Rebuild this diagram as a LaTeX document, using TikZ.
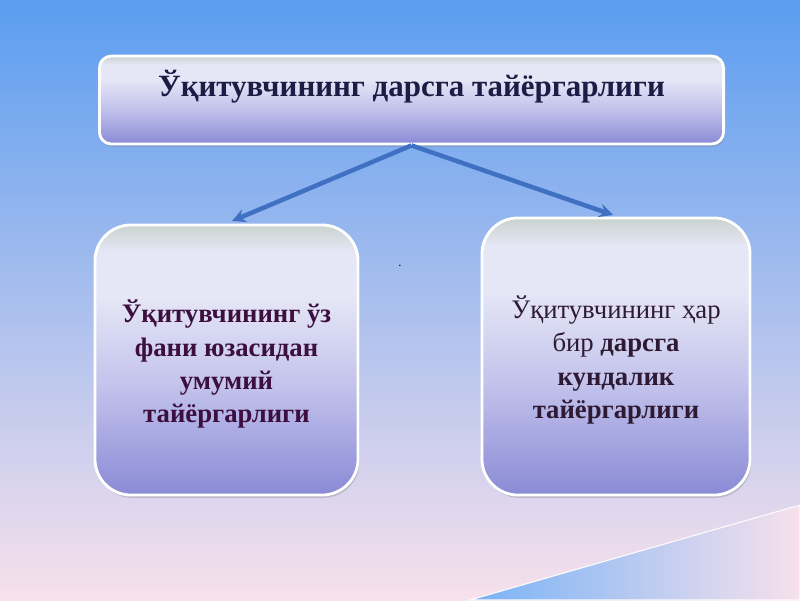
\documentclass[tikz,border=0pt]{standalone}
\usepackage{fontspec}
\setmainfont{Liberation Serif}
\usepackage{tikz}
\usetikzlibrary{arrows,shapes,positioning,calc,shadows}

\definecolor{skytop}{HTML}{5B9DF0}
\definecolor{skymid}{HTML}{A9C8F1}
\definecolor{skybot}{HTML}{F7E1EC}
\definecolor{boxtop}{HTML}{C9D3CF}
\definecolor{boxmid}{HTML}{E6E7F6}
\definecolor{boxlow}{HTML}{C2C2EC}
\definecolor{boxbot}{HTML}{8A8AD6}
\definecolor{groundblue}{HTML}{78B2F6}
\definecolor{arrowblue}{HTML}{3F70C2}
\definecolor{titleink}{HTML}{1C1C45}
\definecolor{leftink}{HTML}{3C0F3F}
\definecolor{rightink}{HTML}{2E1A33}

\pgfdeclareverticalshading{boxfill}{100bp}{
  color(0bp)=(boxbot); color(25bp)=(boxbot); color(45bp)=(boxlow);
  color(62bp)=(boxmid); color(70bp)=(boxmid); color(75bp)=(boxtop); color(100bp)=(boxtop)}

\begin{document}
\begin{tikzpicture}[
x=0.025cm, y=-0.025cm, >=stealth,
title-box/.style = {rectangle, rounded corners=0.3cm, draw=white, line width=2pt,
  shading=boxfill,
  drop shadow={shadow xshift=1pt, shadow yshift=-2pt, opacity=0.35},
  minimum width=15.6cm, minimum height=2.2cm, inner sep=0pt},
info-box/.style = {rectangle, rounded corners=0.9cm, draw=white, line width=2pt,
  shading=boxfill,
  drop shadow={shadow xshift=1pt, shadow yshift=-2pt, opacity=0.35},
  inner sep=0pt}
]

% background
\useasboundingbox (0,0) rectangle (800,600);
\shade[top color=skytop, middle color=skymid, bottom color=skybot] (0,0) rectangle (800,600);
\shade[left color=groundblue, right color=skybot, draw=white!85!skybot, line width=0.8pt]
  (470,600) -- (800,505) -- (800,600) -- cycle;

\node [title-box] (title) at (411.5,100) {};
\node [text=titleink, font=\fontsize{22}{26}\selectfont\bfseries] (titletext) at (411.5,87)
  {Ўқитувчининг дарсга тайёргарлиги};

\node [info-box, minimum width=6.575cm, minimum height=6.75cm] (left) at (226.5,360) {};
\node [text=leftink, align=center, font=\fontsize{19}{23.5}\selectfont\bfseries] (lefttext) at (226.5,364)
  {Ўқитувчининг ўз\\фани юзасидан\\умумий\\тайёргарлиги};

\node [info-box, minimum width=6.7cm, minimum height=6.925cm] (right) at (616,356.5) {};
\node [text=rightink, align=center, font=\fontsize{19}{23.5}\selectfont] (righttext) at (616,360)
  {Ўқитувчининг ҳар\\бир \textbf{дарсга}\\\textbf{кундалик}\\\textbf{тайёргарлиги}};

\node [text=black, font=\small] (dot) at (400,266) {.};

\coordinate (lend) at (232,221);
\coordinate (rend) at (613,215);

% arrows
\draw[->, arrowblue, line width=3.2pt] (title.south) -- (lend);
\draw[->, arrowblue, line width=3.2pt] (title.south) -- (rend);

\end{tikzpicture}
\end{document}
